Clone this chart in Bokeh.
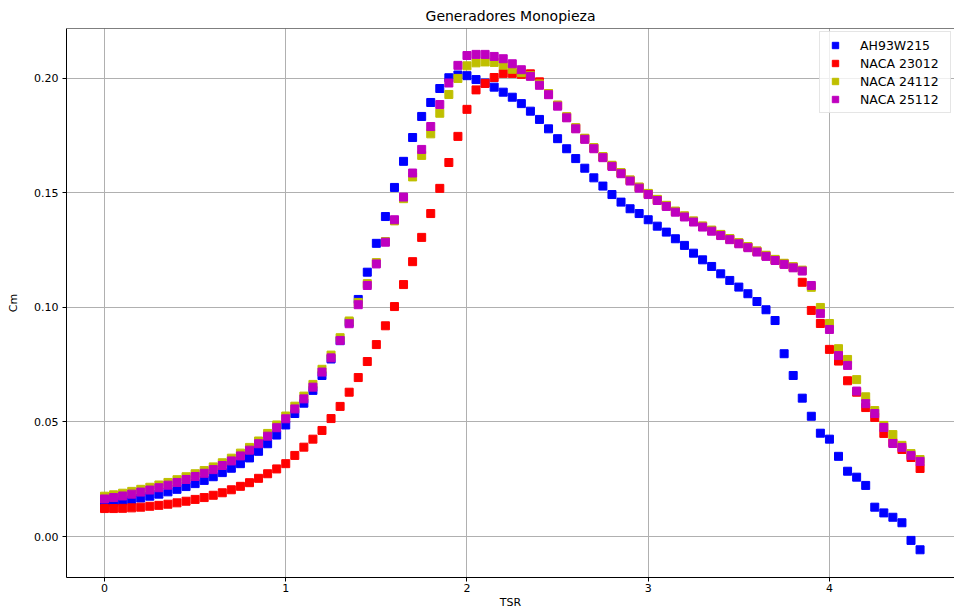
import numpy as np
from bokeh.plotting import figure
from bokeh.models import (Range1d, FixedTicker, Legend, LegendItem,
                          NumeralTickFormatter, Span)
from bokeh.embed import file_html
from bokeh.resources import INLINE

title = "Generadores Monopieza"
x_label = "TSR"
y_label = "Cm"
series_names = ["AH93W215", "NACA 23012", "NACA 24112", "NACA 25112"]
series_colors = ["#0000ff", "#ff0000", "#bfbf00", "#bf00bf"]
x_ticks = [0, 1, 2, 3, 4]
y_ticks = [0.0, 0.05, 0.10, 0.15, 0.20]

tsr = np.round(np.arange(91) * 0.05, 2)

cm_ah93w215 = [
    0.0145, 0.0149, 0.0155, 0.0161, 0.0168, 0.0176, 0.0185, 0.0195, 0.0206, 0.0218,
    0.0231, 0.0245, 0.0261, 0.0279, 0.0298, 0.0318, 0.0343, 0.0372, 0.0405, 0.0443,
    0.0487, 0.0537, 0.0582, 0.0638, 0.0703, 0.0775, 0.0855, 0.0935, 0.1035, 0.1154,
    0.1280, 0.1397, 0.1524, 0.1638, 0.1742, 0.1834, 0.1895, 0.1956, 0.2003, 0.2015,
    0.2012, 0.1995, 0.1980, 0.1962, 0.1940, 0.1918, 0.1890, 0.1857, 0.1821, 0.1780,
    0.1737, 0.1693, 0.1650, 0.1608, 0.1566, 0.1530, 0.1493, 0.1460, 0.1431, 0.1410,
    0.1383, 0.1355, 0.1329, 0.1300, 0.1271, 0.1237, 0.1208, 0.1179, 0.1147, 0.1118,
    0.1089, 0.1060, 0.1026, 0.0990, 0.0943, 0.0798, 0.0703, 0.0604, 0.0525, 0.0451,
    0.0425, 0.0350, 0.0285, 0.0259, 0.0223, 0.0128, 0.0103, 0.0084, 0.0060, -0.0017,
    -0.0058,
]

cm_naca23012 = [
    0.0122, 0.0122, 0.0123, 0.0125, 0.0128, 0.0132, 0.0136, 0.0141, 0.0147, 0.0154,
    0.0162, 0.0170, 0.0180, 0.0191, 0.0204, 0.0219, 0.0235, 0.0254, 0.0274, 0.0295,
    0.0318, 0.0354, 0.0390, 0.0425, 0.0463, 0.0515, 0.0568, 0.0630, 0.0694, 0.0764,
    0.0838, 0.0920, 0.1004, 0.1100, 0.1200, 0.1306, 0.1410, 0.1520, 0.1633, 0.1747,
    0.1865, 0.1950, 0.1978, 0.2004, 0.2022, 0.2022, 0.2018, 0.2020, 0.1985, 0.1932,
    0.1882, 0.1831, 0.1783, 0.1737, 0.1696, 0.1657, 0.1619, 0.1587, 0.1555, 0.1524,
    0.1496, 0.1470, 0.1444, 0.1419, 0.1398, 0.1376, 0.1354, 0.1336, 0.1317, 0.1299,
    0.1281, 0.1264, 0.1245, 0.1226, 0.1208, 0.1191, 0.1176, 0.1110, 0.0987, 0.0930,
    0.0817, 0.0766, 0.0680, 0.0630, 0.0563, 0.0520, 0.0450, 0.0410, 0.0380, 0.0345,
    0.0297,
]

cm_naca24112 = [
    0.0176, 0.0182, 0.0189, 0.0197, 0.0206, 0.0215, 0.0225, 0.0236, 0.0248, 0.0261,
    0.0274, 0.0288, 0.0304, 0.0322, 0.0342, 0.0364, 0.0389, 0.0417, 0.0450, 0.0487,
    0.0526, 0.0569, 0.0613, 0.0664, 0.0730, 0.0792, 0.0868, 0.0941, 0.1022, 0.1104,
    0.1196, 0.1288, 0.1378, 0.1475, 0.1570, 0.1664, 0.1758, 0.1848, 0.1930, 0.2000,
    0.2055, 0.2068, 0.2072, 0.2070, 0.2058, 0.2040, 0.2025, 0.2012, 0.1976, 0.1934,
    0.1884, 0.1833, 0.1785, 0.1739, 0.1698, 0.1659, 0.1621, 0.1589, 0.1557, 0.1526,
    0.1498, 0.1472, 0.1446, 0.1421, 0.1400, 0.1378, 0.1356, 0.1338, 0.1319, 0.1301,
    0.1283, 0.1266, 0.1247, 0.1228, 0.1210, 0.1193, 0.1178, 0.1163, 0.1088, 0.1000,
    0.0930, 0.0820, 0.0773, 0.0685, 0.0610, 0.0550, 0.0485, 0.0445, 0.0398, 0.0362,
    0.0336,
]

cm_naca25112 = [
    0.0164, 0.0170, 0.0177, 0.0185, 0.0194, 0.0203, 0.0213, 0.0224, 0.0236, 0.0249,
    0.0262, 0.0276, 0.0292, 0.0310, 0.0330, 0.0352, 0.0377, 0.0405, 0.0438, 0.0475,
    0.0514, 0.0557, 0.0601, 0.0652, 0.0718, 0.0780, 0.0856, 0.0929, 0.1012, 0.1096,
    0.1190, 0.1285, 0.1383, 0.1482, 0.1587, 0.1690, 0.1790, 0.1886, 0.1980, 0.2057,
    0.2100, 0.2105, 0.2105, 0.2096, 0.2086, 0.2064, 0.2038, 0.2009, 0.1970, 0.1929,
    0.1879, 0.1828, 0.1780, 0.1734, 0.1693, 0.1654, 0.1616, 0.1584, 0.1552, 0.1521,
    0.1493, 0.1467, 0.1441, 0.1416, 0.1395, 0.1373, 0.1351, 0.1333, 0.1314, 0.1296,
    0.1278, 0.1261, 0.1242, 0.1223, 0.1205, 0.1188, 0.1173, 0.1159, 0.1096, 0.0973,
    0.0904, 0.0790, 0.0747, 0.0635, 0.0580, 0.0537, 0.0476, 0.0406, 0.0389, 0.0354,
    0.0328,
]

series_values = [cm_ah93w215, cm_naca23012, cm_naca24112, cm_naca25112]

FONT = "DejaVu Sans"
Y_TOP = 0.2218
Y_BOT = -0.0179

p = figure(
    width=954, height=611,
    output_backend="svg", toolbar_location=None,
    x_range=Range1d(-0.2097, 4.69), y_range=Range1d(Y_BOT, Y_TOP),
    min_border_left=66, min_border_right=0, min_border_top=28, min_border_bottom=34,
    title=title,
)

p.title.text_font = FONT
p.title.text_font_size = "14px"
p.title.text_font_style = "normal"
p.title.align = "center"
p.title.text_color = "#000000"

p.outline_line_color = None
p.background_fill_color = "#ffffff"
p.border_fill_color = "#ffffff"

for ax in (p.xaxis[0], p.yaxis[0]):
    ax.axis_line_color = "#000000"
    ax.major_tick_line_color = "#000000"
    ax.minor_tick_line_color = None
    ax.major_tick_out = 4
    ax.major_tick_in = 0
    ax.major_label_text_font = FONT
    ax.major_label_text_font_size = "11px"
    ax.major_label_text_color = "#000000"
    ax.axis_label_text_font = FONT
    ax.axis_label_text_font_size = "11px"
    ax.axis_label_text_font_style = "normal"
    ax.axis_label_text_color = "#000000"

p.xaxis.ticker = FixedTicker(ticks=x_ticks)
p.yaxis.ticker = FixedTicker(ticks=y_ticks)
p.yaxis.formatter = NumeralTickFormatter(format="0.00")
p.xaxis.axis_label = x_label
p.yaxis.axis_label = y_label
p.xaxis.major_label_standoff = 2
p.xaxis.axis_label_standoff = 1
p.yaxis.major_label_standoff = 4
p.yaxis.axis_label_standoff = 11

p.grid.grid_line_color = "#b0b0b0"
p.grid.grid_line_width = 1

# top spine of the axes box
p.add_layout(Span(location=Y_TOP, dimension="width", line_color="#000000", line_width=1))

items = []
for name, color, vals in zip(series_names, series_colors, series_values):
    r = p.scatter(tsr, vals, marker="square", size=8, fill_color=color, line_color=color)
    items.append(LegendItem(label=name, renderers=[r]))

legend = Legend(items=items, location="top_right")
legend.label_text_font = FONT
legend.label_text_font_size = "12.5px"
legend.label_text_color = "#000000"
legend.border_line_color = "#cccccc"
legend.border_line_width = 1
legend.background_fill_color = "#ffffff"
legend.background_fill_alpha = 0.8
legend.padding = 5
legend.margin = 3
legend.spacing = 2
legend.glyph_width = 20
legend.glyph_height = 16
legend.label_height = 16
legend.label_width = 85
legend.label_standoff = 15
p.add_layout(legend)

open("out.html", "w").write(file_html(p, INLINE))
